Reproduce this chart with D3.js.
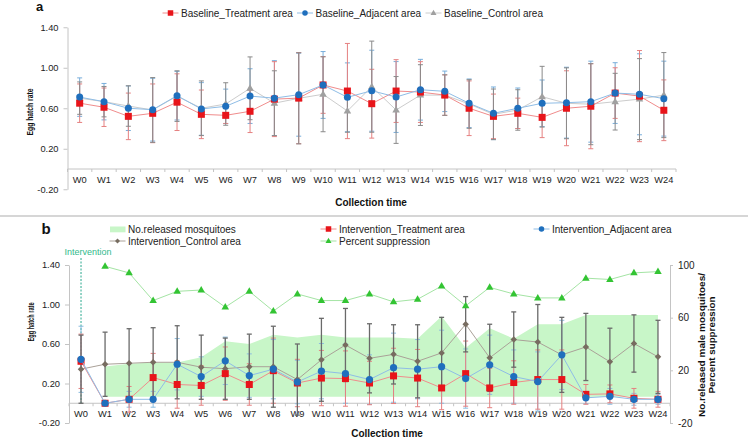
<!DOCTYPE html>
<html><head><meta charset="utf-8">
<script src="https://cdn.jsdelivr.net/npm/d3@7"></script>
<style>body{margin:0;background:#fff} svg{display:block;font-family:"Liberation Sans",Arial,sans-serif}</style>
</head><body><svg id="c" width="748" height="440"></svg>
<script>
// ---------- DATA ----------
const weeks = ["W0","W1","W2","W3","W4","W5","W6","W7","W8","W9","W10","W11","W12","W13","W14","W15","W16","W17","W18","W19","W20","W21","W22","W23","W24"];
const leftTicks = [-0.2, 0.2, 0.6, 1.0, 1.4];
const rightTicks = [-20, 20, 60, 100];

// Panel a (baseline)
const baseTreat   = [0.65,0.61,0.52,0.55,0.66,0.54,0.53,0.57,0.69,0.70,0.83,0.77,0.645,0.77,0.76,0.73,0.60,0.52,0.55,0.51,0.60,0.62,0.75,0.72,0.58];
const baseTreatSD = [0.19,0.19,0.23,0.29,0.28,0.24,0.08,0.21,0.37,0.45,0.28,0.47,0.34,0.31,0.30,0.20,0.27,0.22,0.15,0.20,0.37,0.42,0.25,0.45,0.30];
const baseAdj     = [0.71,0.665,0.60,0.586,0.724,0.593,0.619,0.72,0.70,0.734,0.83,0.708,0.773,0.711,0.783,0.767,0.649,0.55,0.60,0.649,0.655,0.665,0.75,0.738,0.695];
const baseAdjSD   = [0.19,0.18,0.22,0.31,0.24,0.26,0.17,0.27,0.37,0.41,0.33,0.34,0.40,0.35,0.30,0.20,0.24,0.26,0.20,0.23,0.35,0.40,0.30,0.40,0.37];
const baseCtrl    = [0.70,0.665,0.622,0.583,0.72,0.60,0.642,0.797,0.65,0.698,0.738,0.573,0.813,0.583,0.73,0.73,0.642,0.54,0.583,0.714,0.649,0.64,0.665,0.69,0.73];
const baseCtrlSD  = [0.16,0.15,0.20,0.32,0.25,0.27,0.21,0.31,0.32,0.45,0.37,0.21,0.45,0.33,0.30,0.20,0.24,0.25,0.20,0.30,0.35,0.40,0.28,0.40,0.42];

// Panel b (intervention)
const released    = [null,23,25,26,26,30,42,40,47,45,47,45,45,45,44,61,37,52,44,55,55,62,62,62,62];
const suppression = [null,99,94,73,80,81,68,80,65,78,73,73,78,72,74,84,69,83,78,75,75,90,89,94,95];
const intTreat    = [0.425,0.0,0.04,0.26,0.19,0.18,0.30,0.19,0.33,0.205,0.255,0.25,0.205,0.277,0.255,0.155,0.30,0.155,0.21,0.24,0.24,0.09,0.095,0.05,0.04];
const intTreatSD  = [0.275,0,0.13,0.245,0.24,0.20,0.27,0.21,0.33,0.24,0.28,0.28,0.22,0.28,0.29,0.22,0.33,0.20,0.22,0.30,0.30,0.10,0.09,0.10,0.08];
const intAdj      = [0.445,0.0,0.04,0.04,0.395,0.27,0.43,0.28,0.345,0.215,0.325,0.30,0.24,0.36,0.345,0.37,0.25,0.39,0.27,0.22,0.49,0.055,0.07,0.04,0.04];
const intAdjSD    = [0.335,0,0.08,0.08,0.26,0.20,0.24,0.22,0.30,0.22,0.28,0.30,0.25,0.35,0.30,0.37,0.30,0.30,0.27,0.30,0.35,0.06,0.08,0.06,0.05];
const intCtrl     = [0.345,0.395,0.405,0.415,0.415,0.365,0.35,0.37,0.37,0.24,0.44,0.59,0.455,0.495,0.425,0.51,0.80,0.46,0.645,0.62,0.49,0.57,0.42,0.605,0.47];
const intCtrlSD   = [0.345,0.325,0.35,0.35,0.37,0.325,0.31,0.33,0.41,0.36,0.42,0.37,0.35,0.30,0.37,0.36,0.28,0.34,0.28,0.38,0.38,0.34,0.34,0.29,0.37];

// ---------- DRAW ----------
const svg = d3.select("#c");
const C = {
  red:"#e8141a", redLine:"#f08c8c", redErr:"#e58080",
  blue:"#1f6fbd", blueLine:"#8fbde6", blueErr:"#78aedb",
  gray:"#a0a0a0", grayLine:"#cccccc", grayErr:"#8a8a8a",
  ctrl:"#776c60", ctrlLine:"#aaa198", ctrlErr:"#6a6a6a",
  green:"#33c433", greenLine:"#a4e4a4", area:"#c8f6c8",
  axis:"#c4c4c4", text:"#222"
};

function triPath(s){ const h=s*0.866; return `M0,${-h*0.62}L${s/2},${h*0.38}L${-s/2},${h*0.38}Z`; }
function diaPath(r){ return `M0,${-r}L${r},0L0,${r}L${-r},0Z`; }

function drawErr(g, x, y, vals, sds, color, w){
  const cx = i => x(weeks[i]) + x.bandwidth()/2;
  vals.forEach((v,i)=>{
    if (v==null || !sds[i]) return;
    const y1=y(v-sds[i]), y2=y(v+sds[i]), X=cx(i);
    g.append("line").attr("x1",X).attr("x2",X).attr("y1",y1).attr("y2",y2)
      .attr("stroke",color).attr("stroke-width",w||1);
    [y1,y2].forEach(yy=>g.append("line").attr("x1",X-2.5).attr("x2",X+2.5).attr("y1",yy).attr("y2",yy)
      .attr("stroke",color).attr("stroke-width",w||1));
  });
}
function drawSeries(g, x, y, vals, o){
  const cx = i => x(weeks[i]) + x.bandwidth()/2;
  const ln = d3.line().defined(d=>d.v!=null).x(d=>cx(d.i)).y(d=>y(d.v));
  g.append("path").datum(vals.map((v,i)=>({v,i}))).attr("d",ln)
    .attr("fill","none").attr("stroke",o.line).attr("stroke-width",1);
  vals.forEach((v,i)=>{
    if (v==null) return;
    drawMarker(g, o.shape, cx(i), y(v), o.color, o.size);
  });
}
function drawMarker(g, shape, X, Y, color, size){
  if (shape==="square") g.append("rect").attr("x",X-size/2).attr("y",Y-size/2).attr("width",size).attr("height",size).attr("fill",color);
  else if (shape==="circle") g.append("circle").attr("cx",X).attr("cy",Y).attr("r",size/2).attr("fill",color);
  else if (shape==="tri") g.append("path").attr("d",triPath(size)).attr("transform",`translate(${X},${Y})`).attr("fill",color);
  else if (shape==="dia") g.append("path").attr("d",diaPath(size/2)).attr("transform",`translate(${X},${Y})`).attr("fill",color);
}
function styleAxis(g){
  g.selectAll("path,line").attr("stroke",C.axis);
  g.selectAll("text").attr("fill",C.text).style("font-size","9.3px").style("font-family","Liberation Sans, Arial, sans-serif");
}
function xAxisAt(g, x, y0){
  const r = x.range();
  g.append("line").attr("x1",r[0]).attr("x2",r[1]).attr("y1",y0).attr("y2",y0).attr("stroke",C.axis);
  for (let i=0;i<=weeks.length;i++){
    const X = r[0]+i*x.step();
    g.append("line").attr("x1",X).attr("x2",X).attr("y1",y0).attr("y2",y0+3).attr("stroke",C.axis);
  }
  weeks.forEach(w=>g.append("text").attr("x",x(w)+x.bandwidth()/2).attr("y",y0+13.5)
    .attr("text-anchor","middle").attr("fill",C.text).style("font-size","9.3px").text(w));
}
function legendItem(g, x, y, shape, color, lineColor, size, label){
  g.append("line").attr("x1",x-8).attr("x2",x+8).attr("y1",y).attr("y2",y).attr("stroke",lineColor).attr("stroke-width",1);
  drawMarker(g, shape, x, y, color, size);
  g.append("text").attr("x",x+10.5).attr("y",y+3.6).attr("fill",C.text).style("font-size","10px").text(label);
}

// ===== Panel a =====
const xA = d3.scaleBand().domain(weeks).range([67.5, 676]);
const yA = d3.scaleLinear().domain([-0.2,1.4]).range([189.25,27.25]);
const gA = svg.append("g");
const ayA = gA.append("g").attr("transform","translate(67.5,0)")
  .call(d3.axisLeft(yA).tickValues(leftTicks).tickFormat(d=>d.toFixed(2)).tickSize(4).tickSizeOuter(0).tickPadding(5));
styleAxis(ayA);
xAxisAt(gA, xA, yA(0));
drawErr(gA, xA, yA, baseAdj, baseAdjSD, C.blueErr, 1);
drawErr(gA, xA, yA, baseTreat, baseTreatSD, C.redErr, 1);
drawErr(gA, xA, yA, baseCtrl, baseCtrlSD, C.grayErr, 1);
drawSeries(gA, xA, yA, baseCtrl, {line:C.grayLine, shape:"tri", color:C.gray, size:7.5});
drawSeries(gA, xA, yA, baseTreat, {line:C.redLine, shape:"square", color:C.red, size:7});
drawSeries(gA, xA, yA, baseAdj, {line:C.blueLine, shape:"circle", color:C.blue, size:7});

gA.append("text").attr("x",36).attr("y",11).style("font-size","13px").style("font-weight","bold").attr("fill","#111").text("a");
gA.append("text").attr("transform","translate(33,112) rotate(-90)").attr("text-anchor","middle")
  .attr("textLength",47).attr("lengthAdjust","spacingAndGlyphs")
  .style("font-size","9px").style("font-weight","bold").attr("fill","#111").text("Egg hatch rate");
gA.append("text").attr("x",371).attr("y",206).attr("text-anchor","middle")
  .style("font-size","10px").style("font-weight","bold").attr("fill","#111").text("Collection time");
legendItem(gA, 170.5, 13, "square", C.red, C.redLine, 5.5, "Baseline_Treatment area");
legendItem(gA, 305, 13, "circle", C.blue, C.blueLine, 5.5, "Baseline_Adjacent area");
legendItem(gA, 433.5, 13, "tri", C.gray, C.grayLine, 6, "Baseline_Control area");

// separator
svg.append("line").attr("x1",0).attr("x2",748).attr("y1",216).attr("y2",216).attr("stroke","#c8c8c8").attr("stroke-width",1.5);

// ===== Panel b =====
const xB = d3.scaleBand().domain(weeks).range([69, 670]);
const yB = d3.scaleLinear().domain([-0.2,1.4]).range([423,265]);
const yR = d3.scaleLinear().domain([-20,100]).range([423,265]);
const gB = svg.append("g");
const cxB = i => xB(weeks[i]) + xB.bandwidth()/2;

// released area
const area = d3.area().defined(d=>d.v!=null).x(d=>cxB(d.i)).y0(yR(0)).y1(d=>yR(d.v));
gB.append("path").datum(released.map((v,i)=>({v,i}))).attr("d",area).attr("fill",C.area);

const ayB = gB.append("g").attr("transform","translate(69,0)")
  .call(d3.axisLeft(yB).tickValues(leftTicks).tickFormat(d=>d.toFixed(2)).tickSize(4).tickSizeOuter(0).tickPadding(5));
styleAxis(ayB);
const ayR = gB.append("g").attr("transform","translate(670,0)")
  .call(d3.axisRight(yR).tickValues(rightTicks).tickFormat(d=>d).tickSize(3).tickSizeOuter(0).tickPadding(5));
styleAxis(ayR);
ayR.selectAll("text").style("font-size","10px");
xAxisAt(gB, xB, yB(0));

// intervention marker
gB.append("line").attr("x1",cxB(0)).attr("x2",cxB(0)).attr("y1",258).attr("y2",yB(0))
  .attr("stroke","#2aa88e").attr("stroke-width",1).attr("stroke-dasharray","2,1.5");
gB.append("text").attr("x",88).attr("y",255).attr("text-anchor","middle").attr("fill","#33b98c")
  .style("font-size","9px").text("Intervention");

drawErr(gB, xB, yB, intAdj, intAdjSD, "#8cbde0", 1);
drawErr(gB, xB, yB, intTreat, intTreatSD, C.redErr, 1);
drawErr(gB, xB, yB, intCtrl, intCtrlSD, C.ctrlErr, 1.3);
drawSeries(gB, xB, yB, intCtrl, {line:C.ctrlLine, shape:"dia", color:C.ctrl, size:6.5});
drawSeries(gB, xB, yB, intTreat, {line:C.redLine, shape:"square", color:C.red, size:7});
drawSeries(gB, xB, yB, intAdj, {line:C.blueLine, shape:"circle", color:C.blue, size:7.2});
drawSeries(gB, xB, yR, suppression, {line:C.greenLine, shape:"tri", color:C.green, size:7.5});

gB.append("text").attr("x",41.5).attr("y",233.5).style("font-size","15px").style("font-weight","bold").attr("fill","#111").text("b");
gB.append("text").attr("transform","translate(34,322) rotate(-90)").attr("text-anchor","middle")
  .attr("textLength",39).attr("lengthAdjust","spacingAndGlyphs")
  .style("font-size","9px").style("font-weight","bold").attr("fill","#111").text("Egg hatch rate");
gB.append("text").attr("x",387).attr("y",436.5).attr("text-anchor","middle")
  .style("font-size","10px").style("font-weight","bold").attr("fill","#111").text("Collection time");
gB.append("text").attr("transform","translate(704.5,345) rotate(-90)").attr("text-anchor","middle")
  .attr("textLength",144).attr("lengthAdjust","spacingAndGlyphs")
  .style("font-size","9.5px").style("font-weight","bold").attr("fill","#111").text("No.released male mosquitoes/");
gB.append("text").attr("transform","translate(714.5,345) rotate(-90)").attr("text-anchor","middle")
  .attr("textLength",97).attr("lengthAdjust","spacingAndGlyphs")
  .style("font-size","9.5px").style("font-weight","bold").attr("fill","#111").text("Percent suppression");

// legend b
gB.append("rect").attr("x",110).attr("y",226.5).attr("width",15.5).attr("height",5.8).attr("fill",C.area);
gB.append("text").attr("x",128).attr("y",232.8).attr("fill",C.text).style("font-size","10px").text("No.released mosquitoes");
legendItem(gB, 117.5, 241, "dia", C.ctrl, C.ctrlLine, 5, "Intervention_Control area");
legendItem(gB, 328.5, 229, "square", C.red, C.redLine, 5.5, "Intervention_Treatment area");
legendItem(gB, 328.5, 241, "tri", C.green, C.greenLine, 6, "Percent suppression");
legendItem(gB, 541.5, 229, "circle", C.blue, C.blueLine, 5.5, "Intervention_Adjacent area");
</script></body></html>
